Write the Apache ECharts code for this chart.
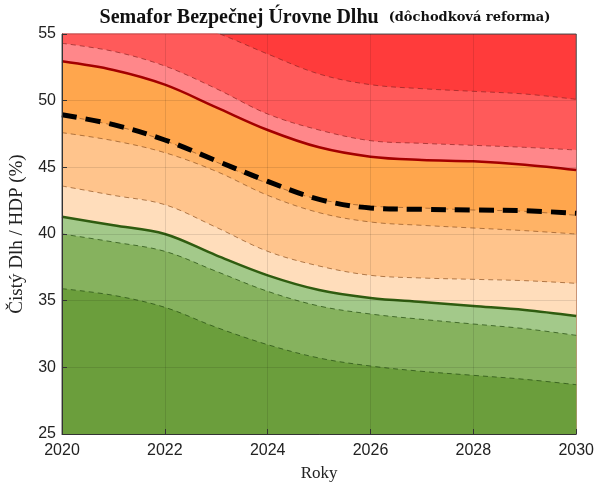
<!DOCTYPE html>
<html><head><meta charset="utf-8">
<script src="https://cdn.jsdelivr.net/npm/echarts@6/dist/echarts.min.js"></script>
<style>html,body{margin:0;padding:0;background:#fff}#c{width:597px;height:487px}</style>
</head><body><div id="c"></div>
<script>
const years = [2020,2021,2022,2023,2024,2025,2026,2027,2028,2029,2030];
// band boundaries (top to bottom)
const lineA = [57.5,57.0,56.3,55.1,53.5,52.0,51.2,50.9,50.7,50.5,50.1];
const lineB = [54.3,53.7,52.6,50.9,49.0,47.8,47.0,46.8,46.65,46.5,46.3];
const lineC = [52.95,52.3,51.2,49.5,47.8,46.5,45.8,45.55,45.45,45.2,44.8];
const lineT = [48.9,48.15,47.0,45.4,43.8,42.6,42.1,41.95,41.8,41.7,41.4];
const lineD = [47.6,47.0,46.1,44.7,42.9,41.6,40.9,40.65,40.45,40.25,40.0];
const lineE = [43.6,42.9,42.2,40.5,38.7,37.6,36.9,36.7,36.6,36.5,36.3];
const lineF = [41.3,40.65,40.0,38.4,36.9,35.8,35.2,34.9,34.6,34.3,33.85];
const lineG = [40.0,39.4,38.7,37.2,35.7,34.6,34.0,33.6,33.25,32.9,32.4];
const lineH = [35.9,35.4,34.5,33.0,31.7,30.7,30.1,29.7,29.4,29.1,28.7];
const debt  = [48.95,48.2,47.05,45.5,43.95,42.6,41.95,41.85,41.8,41.75,41.55];
const xTicks = [2020,2022,2024,2026,2028,2030];
const yTicks = [25,30,35,40,45,50,55];

const pts = arr => years.map((y,i)=>[y,arr[i]]);
function band(data, fill, lineColor, width, type){
  return {type:'line', data:pts(data), smooth:0.35, symbol:'none', silent:true,
    areaStyle:{color:fill, opacity:1, origin:'start'},
    lineStyle:{color:lineColor, width:width, type:type}};
}
const redDash='rgba(150,40,40,0.75)', orDash='rgba(150,90,40,0.75)', grDash='rgba(40,80,20,0.75)';
const chart = echarts.init(document.getElementById('c'));
chart.setOption({
  animation:false,
  title:{text:'{a|Semafor Bezpečnej Úrovne Dlhu}  {b|(dôchodková reforma)}', left:320, top:3, textAlign:'center',
    textStyle:{rich:{a:{fontFamily:'Liberation Serif',fontWeight:'bold',fontSize:20,color:'#111'},
                     b:{fontFamily:'DejaVu Serif',fontWeight:'bold',fontSize:13,color:'#111'}}}},
  grid:{left:61,right:19,top:34,bottom:47,show:true,backgroundColor:'#FF3B3B',borderColor:'#555',borderWidth:1},
  xAxis:{type:'value',min:2020,max:2030,interval:2,z:5,
    name:'Roky',nameLocation:'middle',nameGap:31,
    nameTextStyle:{fontFamily:'Liberation Serif',fontSize:17,color:'#222'},
    axisLine:{lineStyle:{color:'#333'}},
    axisTick:{inside:true,length:5,lineStyle:{color:'#333'}},
    axisLabel:{fontFamily:'Liberation Sans',fontSize:16,color:'#222',margin:9,formatter:v=>xTicks.includes(v)?String(v):''},
    splitLine:{show:true,lineStyle:{color:'rgba(0,0,0,0.1)'}}},
  yAxis:{type:'value',min:25,max:55,interval:5,z:5,
    name:'Čistý Dlh / HDP (%)',nameLocation:'middle',nameGap:35,
    nameTextStyle:{fontFamily:'Liberation Serif',fontSize:19,color:'#222'},
    axisLine:{show:true,lineStyle:{color:'#333'}},
    axisTick:{show:true,inside:true,length:5,lineStyle:{color:'#333'}},
    axisLabel:{fontFamily:'Liberation Sans',fontSize:16,color:'#222',margin:6,formatter:v=>yTicks.includes(v)?String(v):''},
    splitLine:{show:true,lineStyle:{color:'rgba(0,0,0,0.1)'}}},
  series:[
    band(lineA,'#FF5A5A',redDash,1,[5,4]),
    band(lineB,'#FF878A',redDash,1,[5,4]),
    band(lineC,'#FFA64D','#A30000',2.5,'solid'),
    band(lineT,'#FFB366',orDash,1,[5,4]),
    band(lineD,'#FFC48C',orDash,1,[5,4]),
    band(lineE,'#FFDDBB',orDash,1,[5,4]),
    band(lineF,'#A3C98A','#2F5C10',2.5,'solid'),
    band(lineG,'#86B25E',grDash,1,[5,4]),
    band(lineH,'#6B9E3C',grDash,1,[5,4]),
    {type:'line',data:pts(debt),smooth:0.35,symbol:'none',silent:true,z:4,
     lineStyle:{color:'#000',width:5,type:[15,9]}}
  ]
});
</script></body></html>
